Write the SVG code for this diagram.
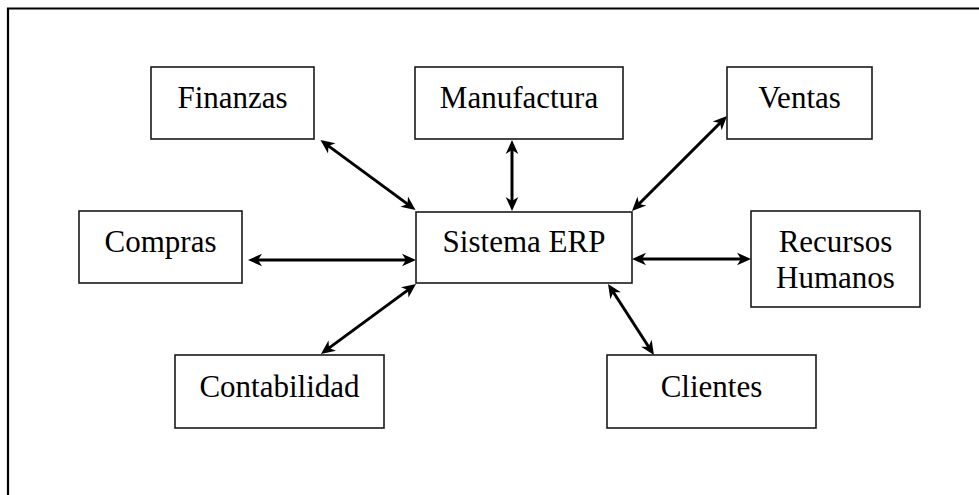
<svg xmlns="http://www.w3.org/2000/svg" width="979" height="495" viewBox="0 0 979 495">
  <style>
    .box { fill: #ffffff; stroke: #1a1a1a; stroke-width: 1.6; }
    .lbl { font-family: "Liberation Serif", "Times New Roman", serif; font-size: 31px; fill: #000000; text-anchor: middle; }
    .link { stroke: #000000; stroke-width: 3; fill: none; marker-start: url(#head); marker-end: url(#head); }
  </style>
  <defs>
    <!-- concave double-ended arrowhead; tip sits 6px beyond the line end -->
    <marker id="head" viewBox="-9 -8 16 16" markerWidth="16" markerHeight="16" refX="0" refY="0" markerUnits="userSpaceOnUse" orient="auto-start-reverse" overflow="visible">
      <path d="M6,0 L-8,-6.3 L-4,0 L-8,6.3 Z" fill="#000000"/>
    </marker>
  </defs>

  <rect width="979" height="495" fill="#ffffff"/>
  <!-- outer frame (runs off the right and bottom edges) -->
  <path d="M8,495 L8,8.5 L979,8.5" fill="none" stroke="#000000" stroke-width="2.2"/>

  <g id="connectors">
    <line class="link" x1="325.3" y1="143.6" x2="410.7" y2="206.4"/>
    <line class="link" x1="512" y1="146" x2="512" y2="205"/>
    <line class="link" x1="722.8" y1="120.2" x2="636.2" y2="206.8"/>
    <line class="link" x1="254" y1="260" x2="410" y2="260"/>
    <line class="link" x1="638" y1="259" x2="745" y2="259"/>
    <line class="link" x1="411.2" y1="287.6" x2="325.8" y2="350.4"/>
    <line class="link" x1="611.3" y1="289" x2="650.7" y2="350"/>
  </g>

  <g id="finanzas">
    <rect class="box" x="151" y="67" width="163" height="72"/>
    <text class="lbl" x="232.5" y="108">Finanzas</text>
  </g>
  <g id="manufactura">
    <rect class="box" x="415" y="67" width="208" height="72"/>
    <text class="lbl" x="519" y="108">Manufactura</text>
  </g>
  <g id="ventas">
    <rect class="box" x="727" y="67" width="145" height="72"/>
    <text class="lbl" x="799.5" y="108">Ventas</text>
  </g>
  <g id="compras">
    <rect class="box" x="79" y="211" width="163" height="72"/>
    <text class="lbl" x="160.5" y="252">Compras</text>
  </g>
  <g id="sistema-erp">
    <rect class="box" x="416" y="212" width="216" height="71"/>
    <text class="lbl" x="524" y="252">Sistema ERP</text>
  </g>
  <g id="recursos-humanos">
    <rect class="box" x="751" y="211" width="169" height="96"/>
    <text class="lbl" x="835.5" y="252">Recursos</text>
    <text class="lbl" x="835.5" y="288">Humanos</text>
  </g>
  <g id="contabilidad">
    <rect class="box" x="175" y="355" width="209" height="73"/>
    <text class="lbl" x="279.5" y="397">Contabilidad</text>
  </g>
  <g id="clientes">
    <rect class="box" x="607" y="355" width="209" height="73"/>
    <text class="lbl" x="711.5" y="397">Clientes</text>
  </g>
</svg>
